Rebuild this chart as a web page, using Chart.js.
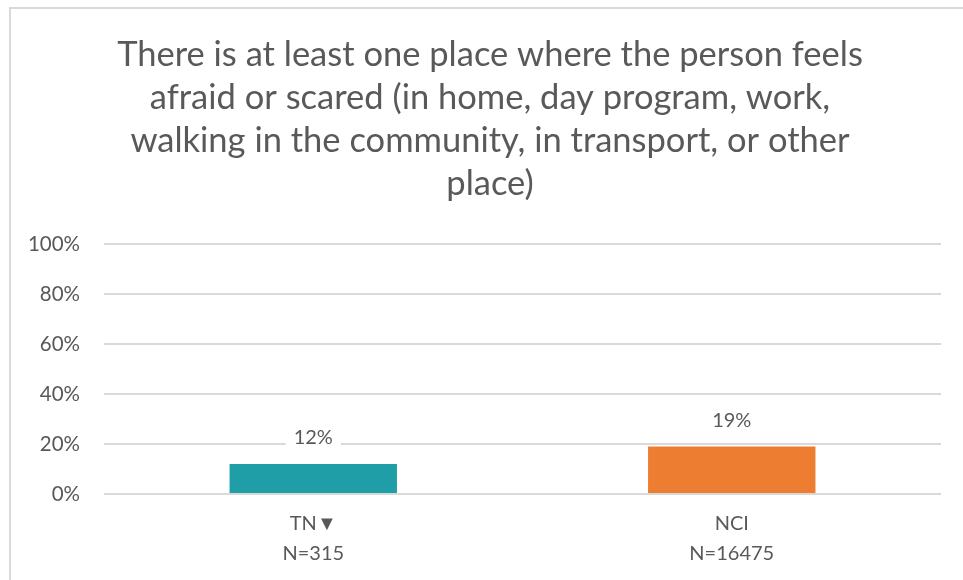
<!DOCTYPE html>
<html lang="en">
<head>
    <meta charset="UTF-8">
    <title>Place where the person feels afraid or scared</title>
    <script src="https://cdn.jsdelivr.net/npm/chart.js"></script>
    <style>
        body {
            margin: 0;
            padding: 0;
            background: #ffffff;
            overflow: hidden;
        }
        /* light frame around the chart, only top and left are visible */
        .frame {
            position: absolute;
            left: 9px;
            top: 7px;
            width: 1000px;
            height: 700px;
            border: 2px solid #d9d9d9;
        }
        canvas {
            position: absolute;
            left: 0;
            top: 0;
        }
    </style>
</head>
<body>
    <div class="frame"></div>
    <canvas id="chart" width="963" height="580"></canvas>

    <script>
        const titleLines = [
            'There is at least one place where the person feels',
            'afraid or scared (in home, day program, work,',
            'walking in the community, in transport, or other',
            'place)'
        ];
        const categories = [['TN\u25BC', 'N=315'], ['NCI', 'N=16475']];
        const values = [12, 19];
        const barColors = ['#209EA7', '#ED7D31'];
        const yTicks = [0, 20, 40, 60, 80, 100];

        const FONT = 'Lato, "Open Sans", sans-serif';
        const GREY = '#595959';

        // title block, centred on the framed area rather than the plot
        const chartTitle = {
            id: 'chartTitle',
            afterDraw(chart) {
                const ctx = chart.ctx;
                ctx.save();
                ctx.font = '34.5px ' + FONT;
                ctx.fillStyle = GREY;
                ctx.textAlign = 'center';
                ctx.textBaseline = 'middle';
                titleLines.forEach((line, i) => {
                    ctx.fillText(line, 490, 55 + i * 43);
                });
                ctx.restore();
            }
        };

        // draws the percentage above each bar, on a white box over the grid
        const valueLabels = {
            id: 'valueLabels',
            afterDatasetsDraw(chart) {
                const ctx = chart.ctx;
                const meta = chart.getDatasetMeta(0);
                ctx.save();
                ctx.font = '20px ' + FONT;
                ctx.textAlign = 'center';
                ctx.textBaseline = 'middle';
                meta.data.forEach((bar, i) => {
                    const text = values[i] + '%';
                    const w = ctx.measureText(text).width + 16;
                    const y = bar.y - 26;
                    ctx.fillStyle = '#ffffff';
                    ctx.fillRect(bar.x - w / 2, y - 12, w, 24);
                    ctx.fillStyle = GREY;
                    ctx.fillText(text, bar.x, y);
                });
                ctx.restore();
            }
        };

        new Chart(document.getElementById('chart'), {
            type: 'bar',
            data: {
                labels: categories,
                datasets: [{
                    data: values,
                    backgroundColor: barColors,
                    borderWidth: 0,
                    categoryPercentage: 1,
                    barPercentage: 0.4
                }]
            },
            options: {
                responsive: false,
                animation: false,
                layout: { padding: { left: 0, right: 22, top: 244, bottom: 0 } },
                plugins: {
                    legend: { display: false },
                    tooltip: { enabled: false },
                    title: { display: false }
                },
                scales: {
                    x: {
                        grid: { display: false, drawTicks: false },
                        border: { display: false },
                        ticks: {
                            color: GREY,
                            font: { family: FONT, size: 20, lineHeight: 1.5 },
                            padding: 15
                        },
                        afterFit(scale) { scale.height = 86; }
                    },
                    y: {
                        min: 0,
                        max: 100,
                        afterBuildTicks(scale) {
                            scale.ticks = yTicks.map(v => ({ value: v }));
                        },
                        grid: { color: '#d9d9d9', lineWidth: 2, drawTicks: false },
                        border: { display: false },
                        ticks: {
                            color: GREY,
                            font: { family: FONT, size: 20.5 },
                            padding: 24,
                            callback: v => v + '%'
                        },
                        afterFit(scale) { scale.width = 104; }
                    }
                }
            },
            plugins: [valueLabels, chartTitle]
        });
    </script>
</body>
</html>
